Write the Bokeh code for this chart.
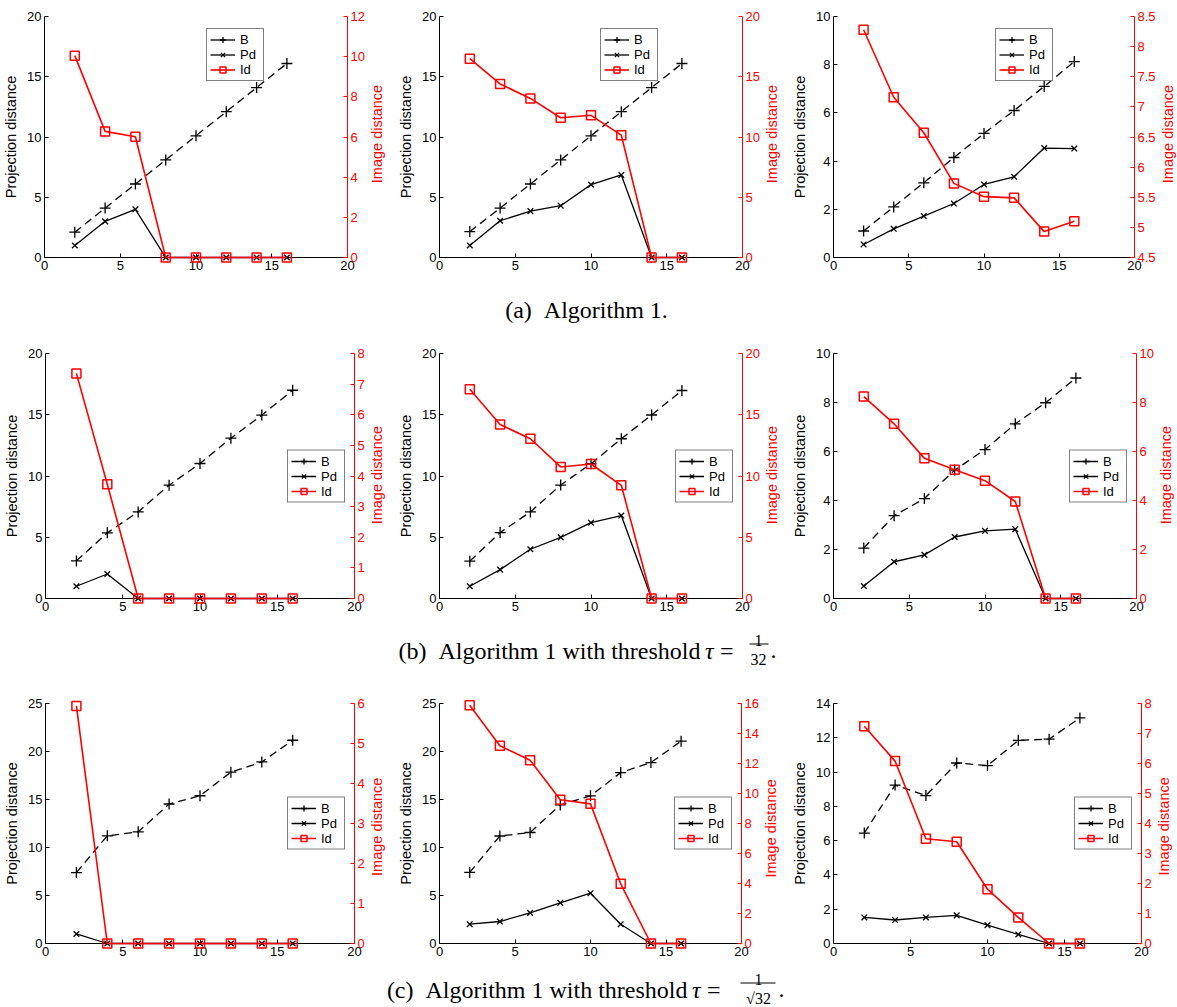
import math
from bokeh.plotting import figure
from bokeh.models import (Range1d, LinearAxis, FixedTicker, Legend, LegendItem,
                          Label, BoxAnnotation)
from bokeh.layouts import column, row
from bokeh.embed import file_html
from bokeh.resources import INLINE

# ---------------- data ----------------
steps = [2, 4, 6, 8, 10, 12, 14, 16]
x_ticks = [0, 5, 10, 15, 20]

# (a) Algorithm 1
a1_B = [2.1, 4.1, 6.1, 8.1, 10.1, 12.1, 14.1, 16.1]
a1_Pd = [1.0, 3.0, 4.0, 0, 0, 0, 0, 0]
a1_Id = [10.05, 6.28, 6.01, 0, 0, 0, 0, 0]
a2_B = [2.15, 4.1, 6.1, 8.1, 10.1, 12.1, 14.1, 16.1]
a2_Pd = [1.0, 3.05, 3.85, 4.3, 6.05, 6.85, 0, 0]
a2_Id = [16.5, 14.4, 13.2, 11.6, 11.8, 10.15, 0, 0]
a3_B = [1.1, 2.1, 3.1, 4.15, 5.15, 6.1, 7.1, 8.13]
a3_Pd = [0.54, 1.19, 1.72, 2.24, 3.03, 3.35, 4.54, 4.52]
a3_Id = [8.28, 7.16, 6.57, 5.73, 5.51, 5.49, 4.93, 5.10]

# (b) threshold 1/32
b1_B = [3.07, 5.36, 7.07, 9.25, 11.02, 13.09, 14.97, 17.0]
b1_Pd = [1.0, 2.0, 0, 0, 0, 0, 0, 0]
b1_Id = [7.35, 3.73, 0, 0, 0, 0, 0, 0]
b2_B = [3.05, 5.38, 7.07, 9.26, 11.0, 13.04, 14.98, 16.98]
b2_Pd = [1.0, 2.36, 4.02, 4.99, 6.19, 6.77, 0, 0]
b2_Id = [17.09, 14.2, 13.04, 10.74, 10.98, 9.24, 0, 0]
b3_B = [2.06, 3.38, 4.08, 5.24, 6.08, 7.13, 7.99, 9.0]
b3_Pd = [0.51, 1.5, 1.78, 2.51, 2.76, 2.83, 0, 0]
b3_Id = [8.24, 7.13, 5.72, 5.26, 4.81, 3.96, 0, 0]

# (c) threshold 1/sqrt(32)
c1_B = [7.39, 11.22, 11.63, 14.53, 15.39, 17.85, 18.91, 21.17]
c1_Pd = [0.99, 0, 0, 0, 0, 0, 0, 0]
c1_Id = [5.94, 0, 0, 0, 0, 0, 0, 0]
c2_B = [7.4, 11.2, 11.56, 14.44, 15.38, 17.8, 18.85, 21.08]
c2_Pd = [2.01, 2.29, 3.19, 4.24, 5.24, 2.01, 0, 0]
c2_Id = [15.89, 13.18, 12.22, 9.58, 9.31, 3.98, 0, 0]
c3_B = [6.44, 9.24, 8.63, 10.53, 10.38, 11.85, 11.92, 13.16]
c3_Pd = [1.52, 1.37, 1.52, 1.64, 1.07, 0.53, 0, 0]
c3_Id = [7.24, 6.08, 3.49, 3.39, 1.81, 0.87, 0, 0]

# axis ticks
ticks_0_20 = [0, 5, 10, 15, 20]
ticks_0_10 = [0, 2, 4, 6, 8, 10]
ticks_0_25 = [0, 5, 10, 15, 20, 25]
ticks_0_14 = [0, 2, 4, 6, 8, 10, 12, 14]
rticks_a1 = [0, 2, 4, 6, 8, 10, 12]
rticks_a2 = [0, 5, 10, 15, 20]
rticks_a3 = [4.5, 5, 5.5, 6, 6.5, 7, 7.5, 8, 8.5]
rticks_b1 = [0, 1, 2, 3, 4, 5, 6, 7, 8]
rticks_b2 = [0, 5, 10, 15, 20]
rticks_b3 = [0, 2, 4, 6, 8, 10]
rticks_c1 = [0, 1, 2, 3, 4, 5, 6]
rticks_c2 = [0, 2, 4, 6, 8, 10, 12, 14, 16]
rticks_c3 = [0, 1, 2, 3, 4, 5, 6, 7, 8]

series_labels = ["B", "Pd", "Id"]
left_label = "Projection distance"
right_label = "Image distance"
captions = ["(a)\u00a0\u00a0Algorithm 1.",
            "(b)\u00a0\u00a0Algorithm 1 with threshold",
            "(c)\u00a0\u00a0Algorithm 1 with threshold"]

# ---------------- style ----------------
SANS = "Liberation Sans"
SERIF = "Liberation Serif"
RED = "#ff0000"
TICK_FS = "13px"
LABEL_FS = "14.5px"


def fmt(t):
    return "%g" % t


def label_width(ticks):
    # approximate pixel width of the widest tick label at 13px
    w = 0
    for t in ticks:
        s = fmt(t)
        w = max(w, sum(3.6 if ch == "." else 7.23 for ch in s))
    return w


def style_axis(ax, color):
    ax.major_tick_in = 4
    ax.major_tick_out = 0
    ax.minor_tick_line_color = None
    ax.axis_line_color = color
    ax.major_tick_line_color = color
    ax.major_label_text_color = color
    ax.major_label_text_font = SANS
    ax.major_label_text_font_size = TICK_FS
    ax.major_label_standoff = 3
    ax.axis_label_text_font = SANS
    ax.axis_label_text_font_size = LABEL_FS
    ax.axis_label_text_font_style = "normal"
    ax.axis_label_text_color = color
    ax.axis_label_standoff = 5


def make_panel(B, Pd, Id, y_end, y_ticks, r_start, r_end, r_ticks,
               legend_loc, width, height, bl, br, bt, bb):
    lw = label_width(r_ticks)
    br_main = int(math.ceil(lw + 6))
    strip_w = br - br_main
    p = figure(width=width - strip_w, height=height,
               x_range=Range1d(0, 20), y_range=Range1d(0, y_end),
               output_backend="svg", toolbar_location=None,
               min_border_left=bl, min_border_right=br_main,
               min_border_top=bt, min_border_bottom=bb)
    p.outline_line_color = None
    p.grid.visible = False
    # "proxy" range lies far away from the data so that legend proxies stay off-frame
    p.extra_y_ranges = {"img": Range1d(r_start, r_end), "proxy": Range1d(-2000, -1990)}
    ax_r = LinearAxis(y_range_name="img")
    p.add_layout(ax_r, "right")

    xa = p.below[0]
    ya = p.left[0]
    ya.axis_label = left_label
    style_axis(xa, "black")
    style_axis(ya, "black")
    style_axis(ax_r, RED)
    xa.ticker = FixedTicker(ticks=x_ticks)
    ya.ticker = FixedTicker(ticks=y_ticks)
    ax_r.ticker = FixedTicker(ticks=r_ticks)
    xa.major_label_overrides = {t: fmt(t) for t in x_ticks}
    ya.major_label_overrides = {t: fmt(t) for t in y_ticks}
    ax_r.major_label_overrides = {t: fmt(t) for t in r_ticks}

    lvl = "annotation"
    # B: dashed + crosses
    p.line(steps, B, line_color="black", line_width=1.3, line_dash="8 5", level=lvl)
    p.scatter(steps, B, marker="cross", size=11, line_color="black", line_width=1.3, level=lvl)
    # Pd: solid + x
    lp = p.line(steps, Pd, line_color="black", line_width=1.3, level=lvl)
    sp = p.scatter(steps, Pd, marker="x", size=8, line_color="black", line_width=1.3, level=lvl)
    # Id: red + open squares on right axis
    li = p.line(steps, Id, line_color=RED, line_width=1.6, y_range_name="img", level=lvl)
    si = p.scatter(steps, Id, marker="square", size=9, line_color=RED, fill_color=None,
                   line_width=1.5, y_range_name="img", level=lvl)

    # legend proxy for B (solid line, as the original legend shows)
    lb = p.line(steps, B, line_color="black", line_width=1.3, y_range_name="proxy")
    sb = p.scatter(steps, B, marker="cross", size=11, line_color="black", line_width=1.3,
                   y_range_name="proxy")
    legend = Legend(items=[LegendItem(label=series_labels[0], renderers=[lb, sb]),
                           LegendItem(label=series_labels[1], renderers=[lp, sp]),
                           LegendItem(label=series_labels[2], renderers=[li, si])],
                    location=legend_loc, glyph_width=25, glyph_height=15,
                    label_height=15, spacing=0, padding=3, label_standoff=5,
                    margin=9, border_line_color="black", border_line_width=1,
                    background_fill_alpha=1.0, label_text_font=SANS,
                    label_text_color="black", label_text_font_size="13px")
    legend.level = "overlay"
    p.add_layout(legend)

    # narrow strip holding the right axis title, reading bottom-to-top
    s = figure(width=strip_w, height=height, x_range=Range1d(0, strip_w),
               y_range=Range1d(0, height), output_backend="svg", toolbar_location=None,
               min_border=0, x_axis_location=None, y_axis_location=None)
    s.grid.visible = False
    s.outline_line_color = None
    fh = height - bt - bb
    s.add_layout(Label(x=lw + 15 - br_main, y=bb + fh / 2, text=right_label,
                       angle=math.pi / 2, text_align="center", text_baseline="middle",
                       text_font=SANS, text_font_size=LABEL_FS, text_color=RED))
    return [p, s]


# column geometry (page has no margin in the rendered template)
W1, W2, W3 = 390, 390, 397
H1, H2, H3 = 280, 283, 294
HA, HB, HC = 55, 52, 43

row1 = row(
    *make_panel(a1_B, a1_Pd, a1_Id, 20, ticks_0_20, 0, 12, rticks_a1, (162, 176), W1, H1, 44, 43, 16, 23),
    *make_panel(a2_B, a2_Pd, a2_Id, 20, ticks_0_20, 0, 20, rticks_a2, (161, 176), W2, H1, 49, 38, 16, 23),
    *make_panel(a3_B, a3_Pd, a3_Id, 10, ticks_0_10, 4.5, 8.5, rticks_a3, (162, 176), W3, H1, 53, 43, 16, 23),
)
row2 = row(
    *make_panel(b1_B, b1_Pd, b1_Id, 20, ticks_0_20, 0, 8, rticks_b1, "right", W1, H2, 45, 36, 18, 20),
    *make_panel(b2_B, b2_Pd, b2_Id, 20, ticks_0_20, 0, 20, rticks_b2, "right", W2, H2, 49, 38, 18, 20),
    *make_panel(b3_B, b3_Pd, b3_Id, 10, ticks_0_10, 0, 10, rticks_b3, "right", W3, H2, 53, 41, 18, 20),
)
row3 = row(
    *make_panel(c1_B, c1_Pd, c1_Id, 25, ticks_0_25, 0, 6, rticks_c1, "right", W1, H3, 45, 36, 29, 21),
    *make_panel(c2_B, c2_Pd, c2_Id, 25, ticks_0_25, 0, 16, rticks_c2, "right", W2, H3, 49, 39, 33, 21),
    *make_panel(c3_B, c3_Pd, c3_Id, 14, ticks_0_14, 0, 8, rticks_c3, "right", W3, H3, 53, 36, 28, 21),
)

TOTAL_W = W1 + W2 + W3


def caption_fig(h):
    c = figure(width=TOTAL_W, height=h, x_range=Range1d(0, TOTAL_W), y_range=Range1d(0, h),
               output_backend="svg", toolbar_location=None, min_border=0,
               x_axis_location=None, y_axis_location=None)
    c.grid.visible = False
    c.outline_line_color = None
    return c


def cap_label(c, x, y, text, size="24px", align="left", style="normal"):
    c.add_layout(Label(x=x, y=y, text=text, text_font=SERIF, text_font_size=size,
                       text_align=align, text_baseline="alphabetic",
                       text_font_style=style, text_color="black"))


def fraction(c, xc, y_base, num, den, bar_l, bar_r):
    cap_label(c, xc, y_base + 10, num, size="16px", align="center")
    cap_label(c, xc, y_base - 9, den, size="16px", align="center")
    c.add_layout(BoxAnnotation(left=bar_l, right=bar_r, bottom=y_base + 6, top=y_base + 7,
                               fill_color="black", fill_alpha=1.0, line_color=None))


# caption (a)
capA = caption_fig(HA)
cap_label(capA, 586, 25.5, captions[0], align="center")

# caption (b)
capB = caption_fig(HB)
yb = 20
cap_label(capB, 700, yb, captions[1], align="right")
cap_label(capB, 713, yb, "τ", align="right", style="italic")
cap_label(capB, 733, yb, "=", align="right")
fraction(capB, 758, yb, "1", "32", 749, 768)
cap_label(capB, 770, yb, ".")

# caption (c)
capC = caption_fig(HC)
yc = 18
cap_label(capC, 687, yc, captions[2], align="right")
cap_label(capC, 700, yc, "τ", align="right", style="italic")
cap_label(capC, 720, yc, "=", align="right")
fraction(capC, 758, yc, "1", "√32", 740, 775)
cap_label(capC, 778, yc, ".")

layout = column(row1, capA, row2, capB, row3, capC, spacing=0)

open("out.html", "w").write(file_html(layout, INLINE))
